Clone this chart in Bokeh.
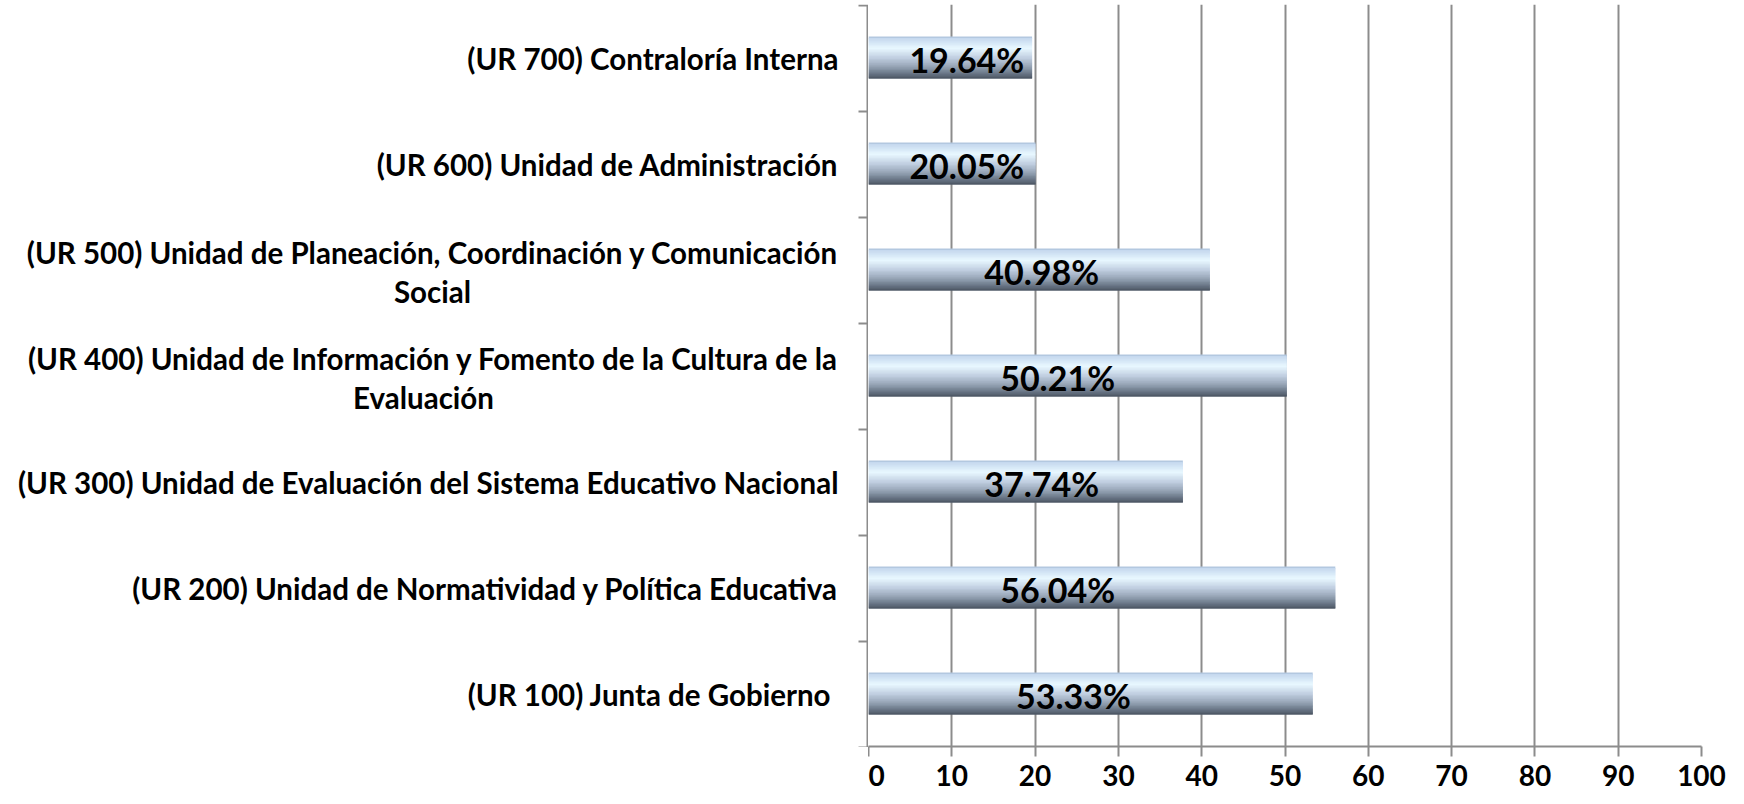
import numpy as np
from bokeh.plotting import figure
from bokeh.layouts import row
from bokeh.models import Range1d, FixedTicker
from bokeh.core.properties import value
from bokeh.embed import file_html
from bokeh.resources import INLINE

# ---- data (bottom to top) ----
first_lines = [
    "(UR 100)  Junta de Gobierno",
    "(UR 200) Unidad de Normatividad y Política Educativa",
    "(UR 300) Unidad de Evaluación del Sistema Educativo Nacional",
    "(UR 400) Unidad de Información y Fomento de la Cultura de la",
    "(UR 500) Unidad de Planeación, Coordinación y Comunicación",
    "(UR 600) Unidad de Administración",
    "(UR 700) Contraloría Interna",
]
second_lines = ["", "", "", "Evaluación", "Social", "", ""]
values = [53.33, 56.04, 37.74, 50.21, 40.98, 20.05, 19.64]
value_labels = ["53.33%", "56.04%", "37.74%", "50.21%", "40.98%", "20.05%", "19.64%"]
x_ticks = [0, 10, 20, 30, 40, 50, 60, 70, 80, 90, 100]

# layout: where each value label's centre sits along the x axis (as in the original)
LABEL_POS = [24.6, 22.7, 20.8, 22.7, 20.8, 11.8, 11.8]

FONT = "Lato"
GRID = "#8c8c8c"
n = len(values)
idx = np.arange(n)

TOP = 4
FRAME_H = 742
LEFT_W = 868
px = n / FRAME_H  # data units per pixel vertically
y_range = Range1d(-0.5, n - 0.5)

# ---- main chart ----
p = figure(output_backend="svg", toolbar_location=None,
           frame_width=833, frame_height=FRAME_H,
           x_range=Range1d(0, 100), y_range=y_range, y_axis_type=None,
           min_border_left=0, min_border_right=40, min_border_top=TOP, min_border_bottom=54)
p.outline_line_color = None
p.background_fill_color = "white"
p.border_fill_color = "white"

# gradient bars built of thin horizontal strips
stops_pos = [0.0, 0.05, 0.28, 0.5, 0.7, 0.86, 1.0]
stops_col = [(0xaa, 0xbf, 0xd8), (0xc6, 0xd9, 0xef), (0xe8, 0xf8, 0xff),
             (0xc2, 0xd0, 0xe2), (0x9a, 0xa8, 0xba), (0x70, 0x7d, 0x8d), (0x4a, 0x54, 0x62)]
N = 30
bh = 0.395
for i in range(N):
    f = (i + 0.5) / N
    c = [int(round(np.interp(f, stops_pos, [s[k] for s in stops_col]))) for k in range(3)]
    col = "#%02x%02x%02x" % tuple(c)
    tops = [k + bh / 2 - i * bh / N for k in idx]
    ext = bh / N if i < N - 1 else 0
    bots = [k + bh / 2 - (i + 1) * bh / N - ext for k in idx]
    p.quad(left=0, right=values, top=tops, bottom=bots, fill_color=col, line_color=None)

# value labels
p.text(x=LABEL_POS, y=idx - 0.02, text=value_labels, text_align="center", text_baseline="middle",
       text_font=value(FONT), text_font_style="bold", text_font_size="34px",
       text_color="black")

p.xgrid.ticker = FixedTicker(ticks=x_ticks)
p.xgrid.grid_line_color = GRID
p.xgrid.grid_line_width = 2
p.ygrid.grid_line_color = None

p.xaxis.ticker = FixedTicker(ticks=x_ticks)
p.xaxis.axis_line_color = GRID
p.xaxis.axis_line_width = 2
p.xaxis.major_tick_line_color = GRID
p.xaxis.major_tick_line_width = 2
p.xaxis.major_tick_out = 10
p.xaxis.major_tick_in = 0
p.xaxis.minor_tick_line_color = None
p.xaxis.major_label_standoff = 8
p.xaxis.major_label_text_font = FONT
p.xaxis.major_label_text_font_style = "bold"
p.xaxis.major_label_text_font_size = "28px"
p.xaxis.major_label_text_color = "black"

# ---- category labels + vertical axis ----
q = figure(output_backend="svg", toolbar_location=None,
           frame_width=LEFT_W, frame_height=FRAME_H + 2,
           x_range=Range1d(0, LEFT_W), y_range=Range1d(-0.5 - px, n - 0.5 + px),
           x_axis_type=None, y_axis_type=None,
           min_border_left=0, min_border_right=0, min_border_top=TOP - 1, min_border_bottom=0)
q.outline_line_color = None
q.grid.grid_line_color = None
q.background_fill_color = "white"
q.border_fill_color = "white"

# axis line and tick marks at category boundaries
q.segment(x0=[LEFT_W - 1], x1=[LEFT_W - 1], y0=[-0.5], y1=[n - 0.5],
          line_color=GRID, line_width=2)
bounds = [k - 0.5 for k in range(n + 1)]
q.segment(x0=[LEFT_W - 10] * len(bounds), x1=[LEFT_W] * len(bounds), y0=bounds, y1=bounds,
          line_color=GRID, line_width=2)

ANCHOR = 838
FS = "29.5px"
two = [k for k in idx if second_lines[k]]
one = [k for k in idx if not second_lines[k]]
q.text(x=[ANCHOR] * len(one), y=[idx[k] for k in one], text=[first_lines[k] for k in one],
       text_align="right", text_baseline="middle",
       text_font=value(FONT), text_font_style="bold", text_font_size=FS, text_color="black")
q.text(x=[ANCHOR] * len(two), y=[idx[k] + 0.17 for k in two], text=[first_lines[k] for k in two],
       text_align="right", text_baseline="middle",
       text_font=value(FONT), text_font_style="bold", text_font_size=FS, text_color="black")
sec_x = {3: 423, 4: 432}
q.text(x=[sec_x[k] for k in two], y=[idx[k] - 0.2 for k in two], text=[second_lines[k] for k in two],
       text_align="center", text_baseline="middle",
       text_font=value(FONT), text_font_style="bold", text_font_size=FS, text_color="black")

layout = row(q, p, spacing=0)
open("out.html", "w").write(file_html(layout, INLINE))
